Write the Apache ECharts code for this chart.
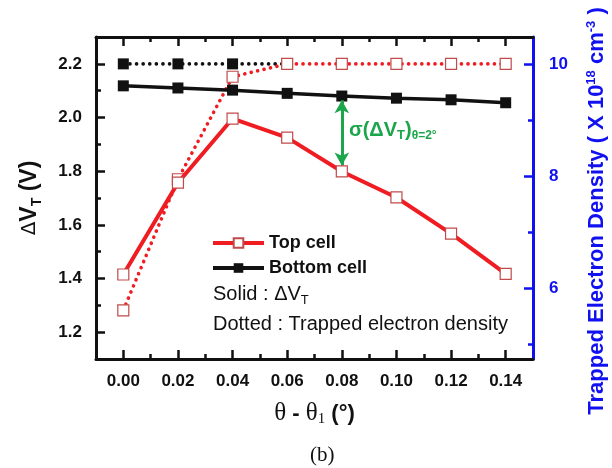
<!DOCTYPE html>
<html>
<head>
<meta charset="utf-8">
<script src="https://cdn.jsdelivr.net/npm/echarts@6/dist/echarts.min.js"></script>
<style>html,body{margin:0;padding:0;background:#fff;}#c{width:612px;height:468px;}</style>
</head>
<body>
<div id="c"></div>
<script>
// x values: theta - theta1 (deg)
var xValues = [0.00, 0.02, 0.04, 0.06, 0.08, 0.10, 0.12, 0.14];
// Solid: Delta V_T (V), left axis
var topCellVT = [1.415, 1.757, 1.996, 1.925, 1.799, 1.702, 1.567, 1.417];
var bottomCellVT = [2.118, 2.110, 2.102, 2.090, 2.080, 2.072, 2.066, 2.055];
// Dotted: trapped electron density (x10^18 cm^-3), right axis
var topCellDensity = [5.60, 7.94, 9.77, 10.0, 10.0, 10.0, 10.0, 10.0];
var bottomCellDensity = [10.0, 10.0, 10.0, 10.0, null, null, null, null];
// tick labels
var xMajorTicks = [0.00, 0.02, 0.04, 0.06, 0.08, 0.10, 0.12, 0.14];
var xMinorTicks = [0.01, 0.03, 0.05, 0.07, 0.09, 0.11, 0.13];
var yLeftMajor = [1.2, 1.4, 1.6, 1.8, 2.0, 2.2];
var yLeftMinor = [1.3, 1.5, 1.7, 1.9, 2.1];
var yRightMajor = [6, 8, 10];
var yRightMinor = [5, 7, 9];
var arrowIndex = 4; // annotation at 0.08

function pairs(xs, ys) { return xs.map(function (x, i) { return [x, ys[i]]; }); }

var chart = echarts.init(document.getElementById('c'), null, {renderer: 'canvas'});
var BLACK = '#111111', RED = '#ef1c22', BLUE = '#1010f0', GREEN = '#1ca64c';
var XMIN = -0.01, XMAX = 0.15, YMIN = 1.1, YMAX = 2.3, RMIN = 4.73, RMAX = 10.48;
var tickFont = {fontFamily: 'Liberation Sans, Arial', fontWeight: 'bold', fontSize: 17};

function xAxisDef(pos, ticks, len, showLine, showLabel) {
  return {
    type: 'value', position: pos, min: XMIN, max: XMAX, offset: 0,
    axisLine: {show: showLine, onZero: false, lineStyle: {color: BLACK, width: 3}},
    axisTick: {show: true, inside: true, length: len, customValues: ticks, lineStyle: {color: BLACK, width: 2.5}},
    axisLabel: Object.assign({show: showLabel, customValues: ticks, margin: 14, color: BLACK,
      formatter: function (v) { return v.toFixed(2); }}, tickFont),
    splitLine: {show: false}
  };
}
function yAxisDef(pos, min, max, ticks, len, showLine, showLabel, color, dec, margin) {
  return {
    type: 'value', position: pos, min: min, max: max, offset: 0,
    axisLine: {show: showLine, onZero: false, lineStyle: {color: color, width: 3}},
    axisTick: {show: true, inside: true, length: len, customValues: ticks, lineStyle: {color: color, width: 2.5}},
    axisLabel: Object.assign({show: showLabel, customValues: ticks, margin: margin, color: color,
      formatter: function (v) { return v.toFixed(dec); }}, tickFont),
    splitLine: {show: false}
  };
}

var xMain = xAxisDef('bottom', xMajorTicks, 9, true, true);
xMain.name = '{th|θ}{b| - }{th|θ}{sub|1}{b| (°)}';
xMain.nameLocation = 'middle';
xMain.nameGap = 41;
xMain.nameTextStyle = {
  rich: {
    th: {fontFamily: 'Liberation Serif, Times New Roman', fontSize: 25, color: BLACK},
    b: {fontFamily: 'Liberation Sans, Arial', fontWeight: 'bold', fontSize: 22, color: BLACK},
    sub: {fontFamily: 'Liberation Serif, Times New Roman', fontSize: 15, color: BLACK, verticalAlign: 'bottom', padding: [12, 0, 0, 0]}
  }
};

var yMain = yAxisDef('left', YMIN, YMAX, yLeftMajor, 9, true, true, BLACK, 1, 14);
yMain.name = '{d|Δ}{b|V}{sub|T}{b| (V)}';
yMain.nameLocation = 'middle';
yMain.nameRotate = 90;
yMain.nameGap = 52;
yMain.nameTextStyle = {
  rich: {
    d: {fontFamily: 'DejaVu Sans', fontSize: 20, color: BLACK},
    b: {fontFamily: 'Liberation Sans, Arial', fontWeight: 'bold', fontSize: 23, color: BLACK},
    sub: {fontFamily: 'Liberation Sans, Arial', fontWeight: 'bold', fontSize: 14, color: BLACK, verticalAlign: 'bottom', padding: [14, 0, 0, 0]}
  }
};

var yRight = yAxisDef('right', RMIN, RMAX, yRightMajor, 9, true, true, BLUE, 0, 16);

var option = {
  animation: false,
  backgroundColor: '#ffffff',
  grid: {left: 96, top: 37, width: 437, height: 322, containLabel: false},
  xAxis: [
    xMain,
    xAxisDef('bottom', xMinorTicks, 5, false, false),
    xAxisDef('top', xMajorTicks, 9, true, false),
    xAxisDef('top', xMinorTicks, 5, false, false)
  ],
  yAxis: [
    yMain,
    yAxisDef('left', YMIN, YMAX, yLeftMinor, 5, false, false, BLACK, 1, 14),
    yRight,
    yAxisDef('right', RMIN, RMAX, yRightMinor, 5, false, false, BLUE, 0, 16)
  ],
  legend: {
    data: ['Top cell', 'Bottom cell'],
    orient: 'vertical', left: 211, top: 233, padding: 0,
    itemWidth: 51, itemHeight: 12, itemGap: 5,
    selectedMode: false,
    lineStyle: {width: 4},
    textStyle: {fontFamily: 'Liberation Sans, Arial', fontWeight: 'bold', fontSize: 18, color: BLACK, lineHeight: 20, padding: [0, 0, 0, 0]}
  },
  series: [
    {
      name: 'Bottom cell density', type: 'line', xAxisIndex: 0, yAxisIndex: 2,
      data: pairs(xValues, bottomCellDensity), connectNulls: false,
      symbol: 'rect', symbolSize: 11,
      lineStyle: {color: BLACK, width: 3.6, type: [0.1, 6.5], cap: 'round'},
      itemStyle: {color: BLACK, borderColor: BLACK, borderWidth: 0}, z: 2
    },
    {
      name: 'Top cell density', type: 'line', xAxisIndex: 0, yAxisIndex: 2,
      data: pairs(xValues, topCellDensity),
      symbol: 'rect', symbolSize: 11,
      lineStyle: {color: RED, width: 3.6, type: [0.1, 6.5], cap: 'round'},
      itemStyle: {color: '#ffffff', borderColor: '#c14a4a', borderWidth: 1.2}, z: 3
    },
    {
      name: 'Bottom cell', type: 'line', xAxisIndex: 0, yAxisIndex: 0,
      data: pairs(xValues, bottomCellVT),
      symbol: 'rect', symbolSize: 11,
      lineStyle: {color: BLACK, width: 3.5},
      itemStyle: {color: BLACK, borderColor: BLACK, borderWidth: 0}, z: 4,
      markLine: {
        silent: true, symbol: ['arrow', 'arrow'], symbolSize: [11, 13],
        label: {show: false},
        lineStyle: {color: GREEN, width: 3, type: 'solid'},
        emphasis: {disabled: true},
        data: [[
          {coord: [xValues[arrowIndex], bottomCellVT[arrowIndex] - 0.016]},
          {coord: [xValues[arrowIndex], topCellVT[arrowIndex] + 0.022]}
        ]]
      }
    },
    {
      name: 'Top cell', type: 'line', xAxisIndex: 0, yAxisIndex: 0,
      data: pairs(xValues, topCellVT),
      symbol: 'rect', symbolSize: 11,
      lineStyle: {color: RED, width: 4},
      itemStyle: {color: '#ffffff', borderColor: '#c14a4a', borderWidth: 1.2}, z: 5
    }
  ],
  graphic: [
    {
      type: 'text', x: 597, y: 211, rotation: Math.PI / 2, z: 10,
      style: {
        text: '{b|Trapped Electron Density ( X 10}{sup|18}{b| cm}{sup|-3}{b| )}',
        align: 'center', verticalAlign: 'middle',
        rich: {
          b: {fontFamily: 'Liberation Sans, Arial', fontWeight: 'bold', fontSize: 22, fill: BLUE},
          sup: {fontFamily: 'Liberation Sans, Arial', fontWeight: 'bold', fontSize: 13, fill: BLUE, verticalAlign: 'top', padding: [0, 0, 12, 0]}
        }
      }
    },
    {
      type: 'text', left: 349, top: 120, z: 10,
      style: {
        text: '{m|σ(ΔV}{s|T}{m|)}{t|θ=2°}',
        rich: {
          m: {fontFamily: 'Liberation Sans, Arial', fontWeight: 'bold', fontSize: 20, fill: GREEN},
          s: {fontFamily: 'Liberation Sans, Arial', fontWeight: 'bold', fontSize: 13, fill: GREEN, verticalAlign: 'bottom', padding: [10, 0, 0, 0]},
          t: {fontFamily: 'Liberation Sans, Arial', fontWeight: 'bold', fontSize: 12, fill: GREEN, verticalAlign: 'bottom', padding: [12, 0, 0, 0]}
        }
      }
    },
    {
      type: 'text', left: 213, top: 284, z: 10,
      style: {
        text: '{m|Solid : ΔV}{s|T}',
        rich: {
          m: {fontFamily: 'Liberation Sans, Arial', fontSize: 20, fill: BLACK},
          s: {fontFamily: 'Liberation Sans, Arial', fontSize: 13, fill: BLACK, verticalAlign: 'bottom', padding: [12, 0, 0, 0]}
        }
      }
    },
    {
      type: 'text', left: 213, top: 314, z: 10,
      style: {text: 'Dotted : Trapped electron density', fontFamily: 'Liberation Sans, Arial', fontSize: 20, fill: BLACK}
    },
    {
      type: 'text', left: 310, top: 445, z: 10,
      style: {text: '(b)', fontFamily: 'Liberation Serif, Times New Roman', fontSize: 21, fill: BLACK}
    }
  ]
};
chart.setOption(option);
</script>
</body>
</html>
